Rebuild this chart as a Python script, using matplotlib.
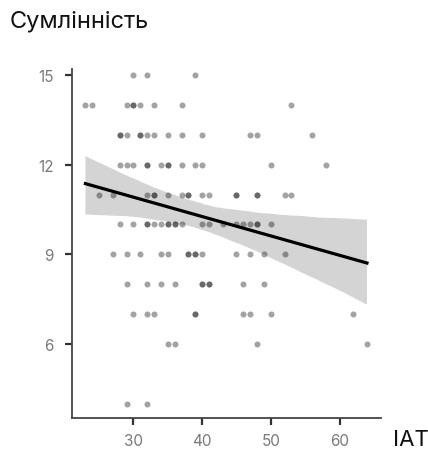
import numpy as np
import matplotlib.pyplot as plt
import seaborn as sns

# IAT score vs. conscientiousness, one list per conscientiousness level
iat_15 = [30, 32, 39]
iat_14 = [23, 24, 29, 30, 30, 31, 33, 37, 53]
iat_13 = [28, 28, 29, 31, 31, 32, 33, 35, 37, 40, 47, 48, 56]
iat_12 = [28, 29, 30, 32, 32, 34, 35, 35, 37, 39, 40, 50, 58]
iat_11 = [25, 27, 32, 33, 33, 35, 37, 38, 38, 40, 41, 45, 45, 48, 48, 52, 53]
iat_10 = [28, 30, 32, 32, 33, 34, 35, 35, 36, 36, 37, 40, 41, 43, 45, 46, 47, 48, 48, 50]
iat_9 = [27, 29, 31, 34, 35, 38, 38, 39, 39, 40, 45, 47, 49, 52]
iat_8 = [29, 32, 34, 36, 40, 40, 41, 41, 46, 49]
iat_7 = [30, 32, 33, 39, 39, 46, 47, 50, 62]
iat_6 = [35, 36, 48, 64]
iat_4 = [29, 32]

groups = {15: iat_15, 14: iat_14, 13: iat_13, 12: iat_12, 11: iat_11, 10: iat_10,
          9: iat_9, 8: iat_8, 7: iat_7, 6: iat_6, 4: iat_4}

iat = np.array([v for g in groups.values() for v in g], dtype=float)
consc = np.array([k for k, g in groups.items() for _ in g], dtype=float)

x_ticks = [30, 40, 50, 60]
y_ticks = [6, 9, 12, 15]

plt.rcParams['font.family'] = ['Inter', 'DejaVu Sans']

fig = plt.figure(figsize=(4.28, 4.52), dpi=100)
ax = fig.add_axes([0.1675, 0.073, 0.722, 0.772])

sns.regplot(x=iat, y=consc, ax=ax, ci=95, n_boot=2000, seed=3,
            scatter_kws=dict(s=19, color='black', alpha=0.36, linewidths=0),
            line_kws=dict(color='black', lw=2.3))
for c in ax.collections[1:]:
    c.set_facecolor('#d4d4d4')
    c.set_alpha(1)
    c.set_zorder(0)

ax.set_xlim(21, 66)
ax.set_ylim(3.52, 15.2)
ax.set_xticks(x_ticks)
ax.set_yticks(y_ticks)
ax.set_xlabel('')
ax.set_ylabel('')

for side in ('top', 'right'):
    ax.spines[side].set_visible(False)
for side in ('left', 'bottom'):
    ax.spines[side].set_color('#444444')
    ax.spines[side].set_linewidth(1.3)
ax.tick_params(length=5, width=1.6, color='#333333', labelcolor='#7a7a7a',
               labelsize=11, pad=6)
ax.tick_params(axis='y', pad=8)

fig.text(10 / 428, 1 - 22 / 452, 'Сумлінність', fontsize=17, va='center', ha='left', color='#111111')
fig.text(393 / 428, 1 - 440 / 452, 'IAT', fontsize=16, va='center', ha='left', color='#111111')

fig.savefig('out.png', dpi=100)
